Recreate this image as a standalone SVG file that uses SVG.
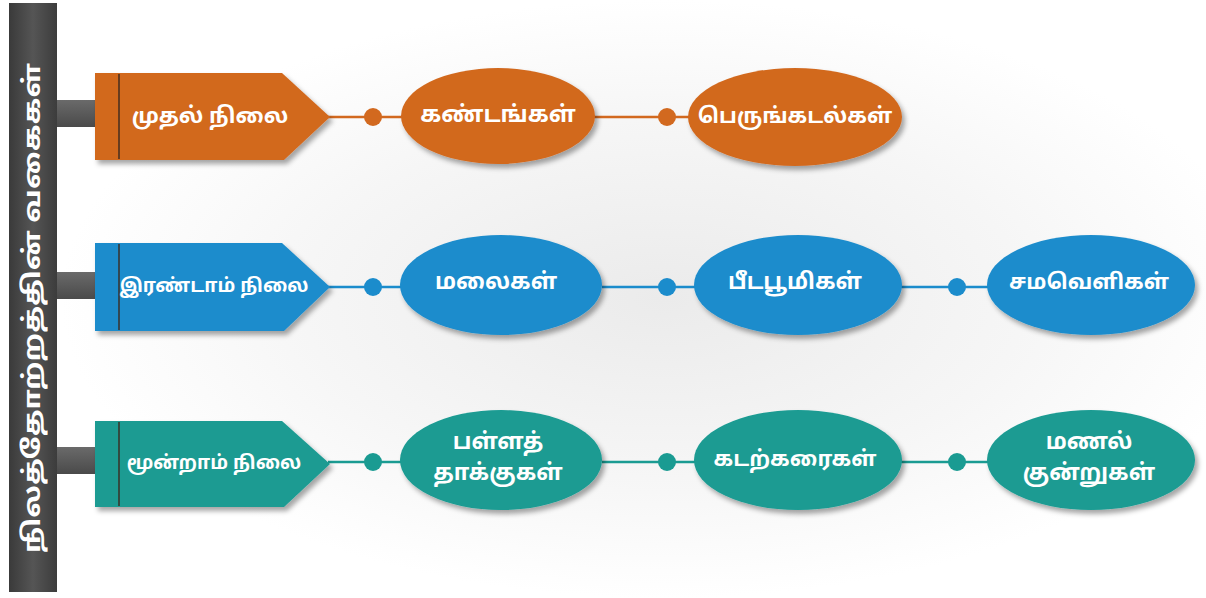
<svg xmlns="http://www.w3.org/2000/svg" width="1206" height="598" viewBox="0 0 1206 598">
<defs>
<radialGradient id="bg" cx="0.55" cy="0.5" r="0.5">
<stop offset="0" stop-color="#ebebeb"/>
<stop offset="0.6" stop-color="#f6f6f6"/>
<stop offset="1" stop-color="#ffffff"/>
</radialGradient>
<linearGradient id="bar" x1="0" y1="0" x2="1" y2="0">
<stop offset="0" stop-color="#3a3a3a"/>
<stop offset="0.5" stop-color="#555555"/>
<stop offset="1" stop-color="#3c3c3c"/>
</linearGradient>
<linearGradient id="stub" x1="0" y1="0" x2="0" y2="1">
<stop offset="0" stop-color="#6a6a6a"/>
<stop offset="1" stop-color="#4a4a4a"/>
</linearGradient>
<filter id="sh" x="-10%" y="-10%" width="125%" height="130%">
<feDropShadow dx="3" dy="4" stdDeviation="2.5" flood-color="#000" flood-opacity="0.35"/>
</filter>
</defs>
<style>
.t{font-family:"Noto Sans Tamil","Lohit Tamil","Latha","Noto Sans",sans-serif;font-weight:bold;fill:#ffffff;text-anchor:middle;dominant-baseline:central}
.o{fill:#d2691f}
.b{fill:#1b8ccc}
.g{fill:#1a9b92}
.lo{stroke:#d2691f;stroke-width:2.5;fill:none}
.lb{stroke:#1b8ccc;stroke-width:2.5;fill:none}
.lg{stroke:#1a9b92;stroke-width:2.5;fill:none}
.inner{stroke:#3a2a20;stroke-width:2;opacity:0.7}
</style>
<rect width="1206" height="598" fill="url(#bg)"/>

<g id="spine">
<rect x="9" y="3" width="48" height="589" fill="url(#bar)"/>
<rect x="57" y="100" width="40" height="27" fill="url(#stub)"/>
<rect x="57" y="272" width="40" height="27" fill="url(#stub)"/>
<rect x="57" y="447" width="40" height="27" fill="url(#stub)"/>
<text class="t" x="0" y="0" font-size="24" textLength="490" lengthAdjust="spacingAndGlyphs" transform="translate(34,308) rotate(-90)">நிலத்தோற்றத்தின் வகைகள்</text>
</g>

<g id="connectors">
<line class="lo" x1="328" y1="117" x2="402" y2="117"/>
<line class="lo" x1="594" y1="117" x2="690" y2="117"/>
<circle class="o" cx="373" cy="117" r="9"/>
<circle class="o" cx="667" cy="117" r="9"/>
<line class="lb" x1="328" y1="287" x2="402" y2="287"/>
<line class="lb" x1="602" y1="287" x2="696" y2="287"/>
<line class="lb" x1="900" y1="287" x2="990" y2="287"/>
<circle class="b" cx="373" cy="287" r="9"/>
<circle class="b" cx="667" cy="287" r="9"/>
<circle class="b" cx="957" cy="287" r="9"/>
<line class="lg" x1="328" y1="462" x2="402" y2="462"/>
<line class="lg" x1="602" y1="462" x2="696" y2="462"/>
<line class="lg" x1="900" y1="462" x2="990" y2="462"/>
<circle class="g" cx="373" cy="462" r="9"/>
<circle class="g" cx="667" cy="462" r="9"/>
<circle class="g" cx="957" cy="462" r="9"/>
</g>

<g id="n1">
<path class="o" filter="url(#sh)" d="M95,73 H282 L330,117 L284,160 H95 Z"/>
<line class="inner" x1="119" y1="74" x2="119" y2="159"/>
<text class="t" x="210" y="117" font-size="22">முதல் நிலை</text>
</g>
<g id="n2">
<ellipse class="o" filter="url(#sh)" cx="498" cy="116" rx="97" ry="48"/>
<text class="t" x="498" y="116" font-size="23">கண்டங்கள்</text>
</g>
<g id="n3">
<ellipse class="o" filter="url(#sh)" cx="795" cy="117" rx="107" ry="49"/>
<text class="t" x="795" y="117" font-size="21.5">பெருங்கடல்கள்</text>
</g>

<g id="n4">
<path class="b" filter="url(#sh)" d="M95,243 H282 L330,287 L284,331 H95 Z"/>
<line class="inner" x1="119" y1="244" x2="119" y2="330"/>
<text class="t" x="214" y="287" font-size="19">இரண்டாம் நிலை</text>
</g>
<g id="n5">
<ellipse class="b" filter="url(#sh)" cx="501" cy="285" rx="101" ry="50"/>
<text class="t" x="496" y="283" font-size="22.5">மலைகள்</text>
</g>
<g id="n6">
<ellipse class="b" filter="url(#sh)" cx="798" cy="285" rx="104" ry="50"/>
<text class="t" x="795" y="283" font-size="22.5">பீடபூமிகள்</text>
</g>
<g id="n7">
<ellipse class="b" filter="url(#sh)" cx="1091" cy="285" rx="104" ry="50"/>
<text class="t" x="1089" y="283" font-size="21.5">சமவெளிகள்</text>
</g>

<g id="n8">
<path class="g" filter="url(#sh)" d="M95,421 H282 L330,464 L284,507 H95 Z"/>
<line class="inner" x1="119" y1="422" x2="119" y2="506"/>
<text class="t" x="214" y="464" font-size="19">மூன்றாம் நிலை</text>
</g>
<g id="n9">
<ellipse class="g" filter="url(#sh)" cx="501" cy="460" rx="101" ry="50"/>
<text class="t" x="498" y="443" font-size="22.5">பள்ளத்</text>
<text class="t" x="498" y="474" font-size="22.5">தாக்குகள்</text>
</g>
<g id="n10">
<ellipse class="g" filter="url(#sh)" cx="798" cy="460" rx="104" ry="50"/>
<text class="t" x="795" y="460" font-size="21.5">கடற்கரைகள்</text>
</g>
<g id="n11">
<ellipse class="g" filter="url(#sh)" cx="1091" cy="460" rx="104" ry="50"/>
<text class="t" x="1089" y="443" font-size="22.5">மணல்</text>
<text class="t" x="1089" y="474" font-size="22.5">குன்றுகள்</text>
</g>
</svg>
